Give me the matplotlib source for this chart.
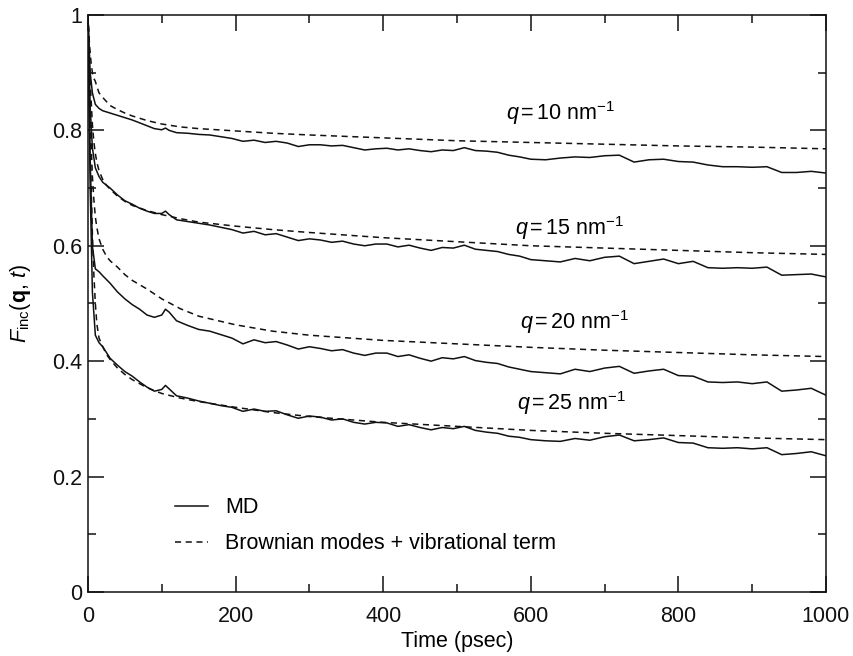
import numpy as np
import matplotlib
matplotlib.use("Agg")
import matplotlib.pyplot as plt
from matplotlib.ticker import MultipleLocator

plt.rcParams['font.family'] = ['Liberation Sans', 'DejaVu Sans']
plt.rcParams['mathtext.fontset'] = 'custom'
plt.rcParams['mathtext.rm'] = 'Liberation Sans'
plt.rcParams['mathtext.it'] = 'Liberation Sans:italic'
plt.rcParams['mathtext.bf'] = 'Liberation Sans:bold'

# MD curves (psec)
t_md = [0, 3, 6, 10, 15, 20, 30, 40, 50, 60, 70, 80, 90, 100, 105, 110, 120,
        135, 150, 165, 180, 195, 210, 225, 240, 255, 270, 285, 300, 315, 330,
        345, 360, 375, 390, 405, 420, 435, 450, 465, 480, 495, 510, 525, 540,
        555, 570, 585, 600, 620, 640, 660, 680, 700, 720, 740, 760, 780, 800,
        820, 840, 860, 880, 900, 920, 940, 960, 980, 1000]

md_q10 = [1.0, 0.90, 0.865, 0.845, 0.838, 0.834, 0.830, 0.826, 0.822, 0.818,
          0.813, 0.808, 0.803, 0.801, 0.804, 0.800, 0.796, 0.795, 0.793, 0.792,
          0.789, 0.786, 0.781, 0.783, 0.779, 0.781, 0.778, 0.772, 0.775, 0.775,
          0.773, 0.774, 0.770, 0.766, 0.768, 0.769, 0.766, 0.768, 0.765, 0.763,
          0.766, 0.765, 0.770, 0.765, 0.764, 0.762, 0.757, 0.754, 0.750, 0.749,
          0.752, 0.754, 0.753, 0.756, 0.757, 0.745, 0.749, 0.750, 0.746, 0.745,
          0.740, 0.737, 0.737, 0.736, 0.737, 0.727, 0.727, 0.729, 0.726]

md_q15 = [1.0, 0.84, 0.77, 0.735, 0.72, 0.71, 0.700, 0.688, 0.678, 0.672,
          0.665, 0.660, 0.656, 0.656, 0.660, 0.654, 0.645, 0.642, 0.639, 0.636,
          0.632, 0.628, 0.622, 0.625, 0.619, 0.621, 0.615, 0.609, 0.612, 0.610,
          0.606, 0.608, 0.603, 0.600, 0.603, 0.603, 0.598, 0.601, 0.596, 0.592,
          0.597, 0.596, 0.601, 0.594, 0.592, 0.590, 0.585, 0.582, 0.576, 0.574,
          0.572, 0.578, 0.574, 0.580, 0.582, 0.569, 0.573, 0.577, 0.569, 0.573,
          0.562, 0.561, 0.562, 0.561, 0.563, 0.549, 0.550, 0.551, 0.546]

md_q20 = [1.0, 0.75, 0.60, 0.56, 0.555, 0.548, 0.535, 0.520, 0.508, 0.498,
          0.490, 0.480, 0.476, 0.480, 0.490, 0.485, 0.470, 0.462, 0.455, 0.452,
          0.446, 0.440, 0.430, 0.437, 0.432, 0.434, 0.428, 0.421, 0.425, 0.422,
          0.418, 0.420, 0.414, 0.410, 0.414, 0.414, 0.408, 0.411, 0.405, 0.400,
          0.406, 0.404, 0.408, 0.401, 0.398, 0.396, 0.390, 0.386, 0.382, 0.380,
          0.378, 0.386, 0.382, 0.388, 0.391, 0.379, 0.383, 0.386, 0.375, 0.374,
          0.364, 0.363, 0.364, 0.361, 0.364, 0.348, 0.350, 0.353, 0.341]

md_q25 = [1.0, 0.70, 0.52, 0.445, 0.432, 0.425, 0.405, 0.393, 0.382, 0.374,
          0.364, 0.355, 0.348, 0.351, 0.358, 0.352, 0.340, 0.336, 0.331, 0.327,
          0.323, 0.320, 0.313, 0.317, 0.313, 0.314, 0.307, 0.301, 0.305, 0.303,
          0.298, 0.300, 0.294, 0.291, 0.294, 0.293, 0.287, 0.290, 0.285, 0.281,
          0.285, 0.283, 0.287, 0.280, 0.277, 0.275, 0.270, 0.268, 0.264, 0.262,
          0.261, 0.266, 0.263, 0.269, 0.272, 0.262, 0.264, 0.267, 0.259, 0.258,
          0.250, 0.249, 0.250, 0.248, 0.250, 0.238, 0.240, 0.243, 0.236]

# Brownian modes + vibrational term
t_bm = [0, 2, 4, 6, 8, 10, 12, 15, 20, 25, 30, 40, 50, 60, 80, 100, 125, 150,
        200, 250, 300, 400, 500, 600, 700, 800, 900, 1000]

bm_q10 = [1.0, 0.95, 0.92, 0.90, 0.89, 0.885, 0.876, 0.865, 0.857, 0.850,
          0.843, 0.836, 0.830, 0.825, 0.817, 0.811, 0.806, 0.803, 0.799, 0.795,
          0.792, 0.787, 0.782, 0.779, 0.776, 0.773, 0.771, 0.768]
bm_q15 = [1.0, 0.92, 0.86, 0.81, 0.78, 0.76, 0.745, 0.73, 0.715, 0.705, 0.698,
          0.686, 0.677, 0.670, 0.661, 0.654, 0.647, 0.641, 0.634, 0.628, 0.623,
          0.614, 0.607, 0.600, 0.596, 0.592, 0.588, 0.585]
bm_q20 = [1.0, 0.88, 0.79, 0.72, 0.68, 0.65, 0.632, 0.612, 0.594, 0.582,
          0.574, 0.563, 0.550, 0.540, 0.525, 0.508, 0.491, 0.478, 0.463, 0.452,
          0.445, 0.436, 0.430, 0.424, 0.419, 0.415, 0.411, 0.408]
bm_q25 = [1.0, 0.85, 0.72, 0.62, 0.55, 0.50, 0.465, 0.44, 0.425, 0.412, 0.403,
          0.388, 0.377, 0.368, 0.354, 0.344, 0.336, 0.330, 0.320, 0.311, 0.304,
          0.294, 0.287, 0.280, 0.275, 0.271, 0.267, 0.264]

q_labels = ['10', '15', '20', '25']
label_t = [566, 578, 585, 581]
label_y = [0.830, 0.631, 0.468, 0.328]

fs = 15.5
fig = plt.figure(figsize=(8.54, 6.56), dpi=100)
ax = fig.add_axes([0.1030, 0.0976, 0.8642, 0.8796])

lw = 1.1
md_sets = [md_q10, md_q15, md_q20, md_q25]
bm_sets = [bm_q10, bm_q15, bm_q20, bm_q25]
for i in range(4):
    ax.plot(t_md, md_sets[i], color='#111111', lw=lw,
            label='MD' if i == 0 else None)
    ax.plot(t_bm, bm_sets[i], color='#111111', lw=lw, dashes=(4, 3),
            label='Brownian modes + vibrational term' if i == 0 else None)

for lab, tx, ty in zip(q_labels, label_t, label_y):
    ax.text(tx, ty, r'$q\,$=$\,$' + lab + r' nm$^{-1}$', fontsize=fs,
            ha='left', va='center')

ax.set_xlim(0, 1000)
ax.set_ylim(0, 1)
ax.xaxis.set_major_locator(MultipleLocator(200))
ax.xaxis.set_minor_locator(MultipleLocator(100))
ax.yaxis.set_minor_locator(MultipleLocator(0.1))
ax.set_yticks([0, 0.2, 0.4, 0.6, 0.8, 1.0])
ax.set_yticklabels(['0', '0.2', '0.4', '0.6', '0.8', '1'])

ax.tick_params(which='both', direction='in', top=True, right=True,
               width=1.1, labelsize=fs, colors='#111111')
ax.tick_params(which='major', length=11.5)
ax.tick_params(which='minor', length=5.8)
ax.tick_params(axis='x', pad=10)
ax.tick_params(axis='y', pad=4)
for s in ax.spines.values():
    s.set_linewidth(1.1)
    s.set_color('#111111')

ax.set_xlabel('Time (psec)', fontsize=fs, labelpad=3)
ax.set_ylabel(r'$F_{\mathrm{inc}}(\mathbf{q},\, t)$', fontsize=fs, labelpad=14)

ax.legend(loc='upper left', bbox_to_anchor=(0.118, 0.164), frameon=False,
          fontsize=fs, handlelength=1.55, handletextpad=0.78, labelspacing=0.7,
          borderpad=0, borderaxespad=0)

fig.savefig('out.png', dpi=100)
